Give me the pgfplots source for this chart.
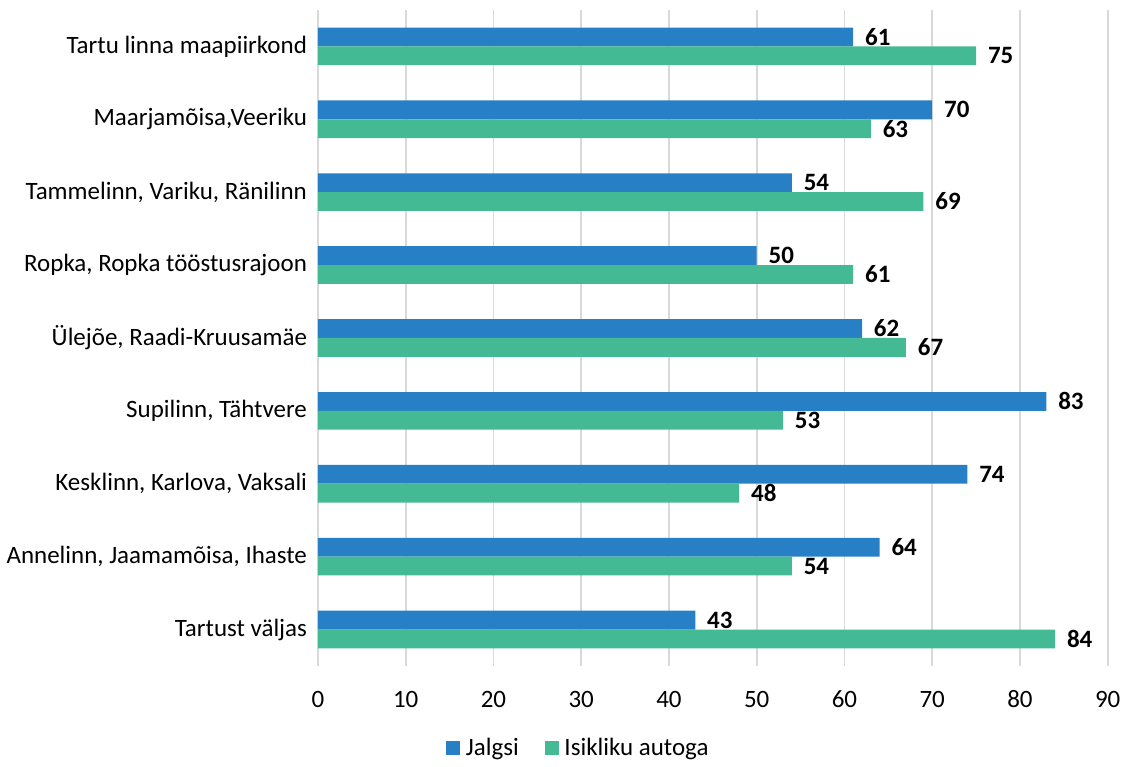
\documentclass[border=0pt]{standalone}
\usepackage{fontspec}
\setmainfont{Carlito}
\usepackage{pgfplots}
\pgfplotsset{compat=1.18}
\definecolor{jalg}{RGB}{39,128,198}
\definecolor{auto}{RGB}{67,186,148}
\definecolor{gridc}{RGB}{217,217,217}
\begin{document}
\begin{tikzpicture}[font=\fontsize{12.6}{15}\selectfont]
  \begin{axis}[
    name=ax,
    xbar,
    scale only axis,
    width=398.5pt,
    height=331pt,
    bar width=9.5pt,
    xmin=0, xmax=90,
    xtick={0,10,...,90},
    ymin=-0.5, ymax=8.5,
    ytick={0,...,8},
    yticklabels={Tartust väljas,{Annelinn, Jaamamõisa, Ihaste},{Kesklinn, Karlova, Vaksali},{Supilinn, Tähtvere},{Ülejõe, Raadi-Kruusamäe},{Ropka, Ropka tööstusrajoon},{Tammelinn, Variku, Ränilinn},{Maarjamõisa,Veeriku},Tartu linna maapiirkond},
    axis line style={draw=none},
    major tick length=0pt,
    xmajorgrids,
    grid style={gridc, line width=0.9pt},
    /pgf/number format/assume math mode=true,
    xticklabel style={yshift=-9pt},
    yticklabel style={xshift=-2pt},
    nodes near coords,
    every node near coord/.append style={font=\fontsize{12.6}{15}\selectfont\bfseries, xshift=2.5pt, black},
    legend style={at={(rel axis cs:0.331,-0.125)}, anchor=center, draw=none, legend columns=2,
      /tikz/every even column/.append style={column sep=11pt},
      /tikz/every odd column/.append style={column sep=1pt}},
    legend image code/.code={\fill[#1] (0pt,-3.5pt) rectangle (7pt,3.5pt);},
  ]
    \addplot[fill=jalg, draw=none, bar shift=4.75pt] coordinates {
      (43,0) (64,1) (74,2) (83,3) (62,4) (50,5) (54,6) (70,7) (61,8)
    };
    \addplot[fill=auto, draw=none, bar shift=-4.75pt] coordinates {
      (84,0) (54,1) (48,2) (53,3) (67,4) (61,5) (69,6) (63,7) (75,8)
    };
    \legend{Jalgsi, Isikliku autoga}
  \end{axis}
  \path[use as bounding box] ([xshift=-160pt,yshift=-46pt]ax.south west) rectangle ++(563.5pt,382pt);
\end{tikzpicture}
\end{document}
